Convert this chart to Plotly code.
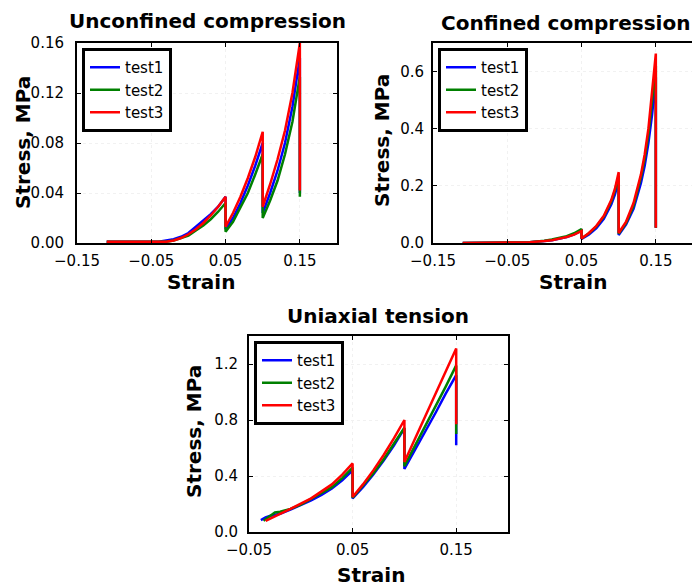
import plotly.graph_objects as go

# ---------------- data ----------------
TESTS = ["test1", "test2", "test3"]
COLORS = ["#0000ff", "#008000", "#ff0000"]

# Unconfined compression
UC_SEG1_STRAIN = [-0.11, -0.09, -0.07, -0.05, -0.04, -0.03, -0.02, -0.01, 0.0, 0.01, 0.02, 0.03, 0.04, 0.05]
UC_T1_SEG1 = [0.001, 0.001, 0.001, 0.001, 0.001, 0.002, 0.003, 0.005, 0.008, 0.013, 0.018, 0.023, 0.029, 0.037]
UC_T2_SEG1 = [0.001, 0.001, 0.001, 0.001, 0.001, 0.001, 0.002, 0.004, 0.006, 0.010, 0.014, 0.019, 0.025, 0.032]
UC_T3_SEG1 = [0.001, 0.001, 0.001, 0.001, 0.001, 0.001, 0.002, 0.004, 0.007, 0.011, 0.016, 0.022, 0.029, 0.037]
UC_SEG2_STRAIN = [0.05, 0.06, 0.07, 0.08, 0.09, 0.1]
UC_T1_SEG2 = [0.011, 0.020, 0.032, 0.046, 0.062, 0.080]
UC_T2_SEG2 = [0.009, 0.017, 0.028, 0.040, 0.055, 0.071]
UC_T3_SEG2 = [0.013, 0.024, 0.037, 0.052, 0.069, 0.089]
UC_SEG3_STRAIN = [0.1, 0.11, 0.12, 0.13, 0.14, 0.15]
UC_T1_SEG3 = [0.024, 0.040, 0.058, 0.080, 0.109, 0.148]
UC_T2_SEG3 = [0.020, 0.034, 0.050, 0.071, 0.097, 0.133]
UC_T3_SEG3 = [0.029, 0.047, 0.067, 0.090, 0.120, 0.160]
UC_END = [0.040, 0.037, 0.042]

# Confined compression
CC_SEG1_STRAIN = [-0.11, -0.09, -0.07, -0.05, -0.04, -0.03, -0.02, -0.01, 0.0, 0.01, 0.02, 0.03, 0.04, 0.05]
CC_T1_SEG1 = [0.0, 0.0, 0.001, 0.001, 0.001, 0.002, 0.003, 0.004, 0.007, 0.010, 0.015, 0.021, 0.030, 0.043]
CC_T2_SEG1 = [0.0, 0.0, 0.001, 0.001, 0.001, 0.002, 0.003, 0.005, 0.008, 0.012, 0.017, 0.024, 0.034, 0.049]
CC_T3_SEG1 = [0.0, 0.0, 0.001, 0.001, 0.001, 0.002, 0.003, 0.004, 0.007, 0.010, 0.015, 0.021, 0.029, 0.042]
CC_SEG2_STRAIN = [0.05, 0.06, 0.07, 0.08, 0.09, 0.095, 0.1]
CC_T1_SEG2 = [0.014, 0.030, 0.052, 0.085, 0.135, 0.170, 0.218]
CC_T2_SEG2 = [0.016, 0.034, 0.058, 0.092, 0.145, 0.185, 0.235]
CC_T3_SEG2 = [0.016, 0.035, 0.060, 0.095, 0.150, 0.190, 0.248]
CC_SEG3_STRAIN = [0.1, 0.11, 0.12, 0.13, 0.135, 0.14, 0.145, 0.15]
CC_T1_SEG3 = [0.028, 0.065, 0.12, 0.21, 0.27, 0.35, 0.45, 0.58]
CC_T2_SEG3 = [0.032, 0.070, 0.13, 0.23, 0.295, 0.38, 0.49, 0.62]
CC_T3_SEG3 = [0.035, 0.075, 0.14, 0.24, 0.31, 0.40, 0.52, 0.663]
CC_END = [0.053, 0.053, 0.053]

# Uniaxial tension
UT_T1_SEG1_STRAIN = [-0.0385, -0.034, -0.03, -0.025, -0.02, -0.01, 0.0, 0.01, 0.02, 0.03, 0.04, 0.05]
UT_T1_SEG1 = [0.085, 0.105, 0.115, 0.12, 0.13, 0.16, 0.19, 0.225, 0.265, 0.31, 0.37, 0.44]
UT_T2_SEG1_STRAIN = [-0.036, -0.032, -0.028, -0.025, -0.02, -0.01, 0.0, 0.01, 0.02, 0.03, 0.04, 0.05]
UT_T2_SEG1 = [0.08, 0.10, 0.125, 0.14, 0.145, 0.165, 0.195, 0.235, 0.275, 0.32, 0.385, 0.46]
UT_T3_SEG1_STRAIN = [-0.034, -0.03, -0.025, -0.02, -0.01, 0.0, 0.01, 0.02, 0.03, 0.04, 0.05]
UT_T3_SEG1 = [0.08, 0.095, 0.115, 0.13, 0.165, 0.2, 0.24, 0.29, 0.34, 0.41, 0.49]
UT_SEG2_STRAIN = [0.05, 0.06, 0.07, 0.08, 0.09, 0.1]
UT_T1_SEG2 = [0.24, 0.32, 0.41, 0.51, 0.62, 0.74]
UT_T2_SEG2 = [0.245, 0.33, 0.42, 0.52, 0.63, 0.745]
UT_T3_SEG2 = [0.25, 0.34, 0.44, 0.55, 0.67, 0.80]
UT_SEG3_STRAIN = [0.1, 0.11, 0.12, 0.13, 0.14, 0.15]
UT_T1_SEG3 = [0.45, 0.58, 0.72, 0.85, 0.99, 1.12]
UT_T2_SEG3 = [0.47, 0.61, 0.75, 0.89, 1.04, 1.19]
UT_T3_SEG3 = [0.50, 0.66, 0.82, 0.98, 1.15, 1.31]
UT_END = [0.62, 0.70, 0.77]

TITLES = ["Unconfined compression", "Confined compression", "Uniaxial tension"]
X_LABEL = "Strain"
Y_LABEL = "Stress, MPa"
X_TICKS_12 = [-0.15, -0.05, 0.05, 0.15]
X_TICKS_3 = [-0.05, 0.05, 0.15]
Y_TICKS_1 = [0.0, 0.04, 0.08, 0.12, 0.16]
Y_TICKS_2 = [0.0, 0.2, 0.4, 0.6]
Y_TICKS_3 = [0.0, 0.4, 0.8, 1.2]

# ---------------- build curves ----------------
def curve(s1x, s1y, s2x, s2y, s3x, s3y, end):
    x = list(s1x) + list(s2x) + list(s3x) + [s3x[-1]]
    y = list(s1y) + list(s2y) + list(s3y) + [end]
    return x, y

panels = [
    [curve(UC_SEG1_STRAIN, UC_T1_SEG1, UC_SEG2_STRAIN, UC_T1_SEG2, UC_SEG3_STRAIN, UC_T1_SEG3, UC_END[0]),
     curve(UC_SEG1_STRAIN, UC_T2_SEG1, UC_SEG2_STRAIN, UC_T2_SEG2, UC_SEG3_STRAIN, UC_T2_SEG3, UC_END[1]),
     curve(UC_SEG1_STRAIN, UC_T3_SEG1, UC_SEG2_STRAIN, UC_T3_SEG2, UC_SEG3_STRAIN, UC_T3_SEG3, UC_END[2])],
    [curve(CC_SEG1_STRAIN, CC_T1_SEG1, CC_SEG2_STRAIN, CC_T1_SEG2, CC_SEG3_STRAIN, CC_T1_SEG3, CC_END[0]),
     curve(CC_SEG1_STRAIN, CC_T2_SEG1, CC_SEG2_STRAIN, CC_T2_SEG2, CC_SEG3_STRAIN, CC_T2_SEG3, CC_END[1]),
     curve(CC_SEG1_STRAIN, CC_T3_SEG1, CC_SEG2_STRAIN, CC_T3_SEG2, CC_SEG3_STRAIN, CC_T3_SEG3, CC_END[2])],
    [curve(UT_T1_SEG1_STRAIN, UT_T1_SEG1, UT_SEG2_STRAIN, UT_T1_SEG2, UT_SEG3_STRAIN, UT_T1_SEG3, UT_END[0]),
     curve(UT_T2_SEG1_STRAIN, UT_T2_SEG1, UT_SEG2_STRAIN, UT_T2_SEG2, UT_SEG3_STRAIN, UT_T2_SEG3, UT_END[1]),
     curve(UT_T3_SEG1_STRAIN, UT_T3_SEG1, UT_SEG2_STRAIN, UT_T3_SEG2, UT_SEG3_STRAIN, UT_T3_SEG3, UT_END[2])],
]

W, H = 692, 582
FONT = "DejaVu Sans"

fig = go.Figure()
for p, curves in enumerate(panels):
    sfx = "" if p == 0 else str(p + 1)
    for t, (x, y) in enumerate(curves):
        fig.add_trace(go.Scatter(
            x=x, y=y, mode="lines", name=TESTS[t],
            line=dict(color=COLORS[t], width=2.5),
            xaxis="x" + sfx, yaxis="y" + sfx,
            legend="legend" + sfx,
        ))

# panel rectangles in pixels: left, top, right, bottom
RECTS = [(77, 43, 337, 243), (433, 43, 692, 243), (249, 336, 508, 532)]
XRANGES = [[-0.15, 0.2], [-0.15, 0.1987], [-0.05, 0.2]]
YRANGES = [[0, 0.16], [0, 0.7], [0, 1.4]]
XTICKS = [X_TICKS_12, X_TICKS_12, X_TICKS_3]
YTICKS = [Y_TICKS_1, Y_TICKS_2, Y_TICKS_3]
YFMT = [".2f", ".1f", ".1f"]
YSTAND = [8, 4, 6]

layout = dict(
    width=W, height=H, margin=dict(l=0, r=0, t=0, b=0, pad=0, autoexpand=False),
    paper_bgcolor="white", plot_bgcolor="white",
    font=dict(family=FONT, color="black"),
)
axis_common = dict(
    showline=True, linecolor="black", linewidth=2,
    ticks="inside", ticklen=4, tickwidth=1, tickcolor="black",
    showgrid=True, gridcolor="#f1f1f1", gridwidth=1, griddash="dot",
    zeroline=False, automargin=False,
    tickfont=dict(family=FONT, size=15, color="black"),
)
annotations = []
for p in range(3):
    l, t, r, b = RECTS[p]
    sfx = "" if p == 0 else str(p + 1)
    layout["xaxis" + sfx] = dict(
        axis_common, domain=[l / W, r / W], range=XRANGES[p],
        tickvals=XTICKS[p], tickformat=".2f", anchor="y" + sfx,
        mirror="ticks", ticklabelstandoff=3,
    )
    layout["yaxis" + sfx] = dict(
        axis_common, domain=[1 - b / H, 1 - t / H], range=YRANGES[p],
        tickvals=YTICKS[p], tickformat=YFMT[p], anchor="x" + sfx,
        mirror=("ticks" if p != 1 else False), ticklabelstandoff=YSTAND[p],
    )
    leg = dict(
        x=(l + 5) / W, y=1 - (t + 5) / H, xanchor="left", yanchor="top",
        bgcolor="white", bordercolor="black", borderwidth=3,
        font=dict(family=FONT, size=15, color="black"),
        tracegroupgap=0, itemwidth=30,
    )
    layout["legend" + sfx] = leg

TITLE_POS = [(207, 21), (565, 23), (378, 316)]
XLAB_POS = [(201, 282), (573, 282), (371, 575)]
YLAB_POS = [(23, 143), (382, 141), (194, 432)]
for p in range(3):
    tx, ty = TITLE_POS[p]
    annotations.append(dict(text="<b>" + TITLES[p] + "</b>", x=tx / W, y=1 - ty / H,
                            xref="paper", yref="paper", showarrow=False,
                            xanchor="center", yanchor="middle",
                            font=dict(family=FONT, size=20, color="black")))
    lx, ly = XLAB_POS[p]
    annotations.append(dict(text="<b>" + X_LABEL + "</b>", x=lx / W, y=1 - ly / H,
                            xref="paper", yref="paper", showarrow=False,
                            xanchor="center", yanchor="middle",
                            font=dict(family=FONT, size=20, color="black")))
    yx, yy = YLAB_POS[p]
    annotations.append(dict(text="<b>" + Y_LABEL + "</b>", x=yx / W, y=1 - yy / H,
                            xref="paper", yref="paper", showarrow=False, textangle=-90,
                            xanchor="center", yanchor="middle",
                            font=dict(family=FONT, size=20, color="black")))
layout["annotations"] = annotations
fig.update_layout(**layout)
fig.write_html("out.html",
               config={"displayModeBar": False},
               post_script="document.body.style.margin='0';document.body.style.overflow='hidden';")
